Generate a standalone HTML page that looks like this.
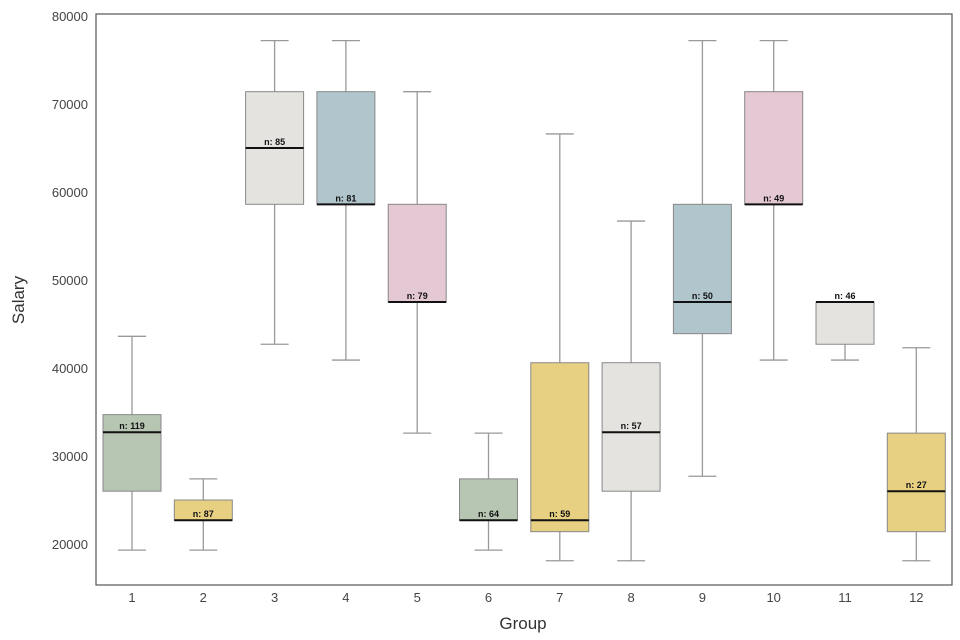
<!DOCTYPE html>
<html><head><meta charset="utf-8"><style>
html,body{margin:0;padding:0;background:#fff;}
svg{display:block;font-family:"Liberation Sans",sans-serif;}
</style></head><body>
<svg id="chart" width="960" height="640">
<rect x="96" y="14" width="856" height="571" fill="#fff" stroke="#555" stroke-width="1.2"/>
<g id="yticks"></g><g id="xticks"></g><g id="boxes"></g>
<text x="24" y="300" font-size="17" fill="#333" text-anchor="middle" transform="rotate(-90 24 300)">Salary</text>
<text x="523" y="629" font-size="17" fill="#333" text-anchor="middle">Group</text>
</svg>
<script>
const groups=["1","2","3","4","5","6","7","8","9","10","11","12"];
const lows=[19300,19300,42700,40900,32600,19300,18100,18100,27700,40900,40900,18100];
const q1s=[26000,22700,58600,58600,47500,22700,21400,26000,43900,58600,42700,21400];
const medians=[32700,22700,65000,58600,47500,22700,22700,32700,47500,58600,47500,26000];
const q3s=[34700,25000,71400,71400,58600,27400,40600,40600,58600,71400,47500,32600];
const highs=[43600,27400,77200,77200,71400,32600,66600,56700,77200,77200,47500,42300];
const counts=[119,87,85,81,79,64,59,57,50,49,46,27];
const colors=["#b7c6b3","#e8d083","#e4e3e0","#b0c5cc","#e4c8d3","#b7c6b3","#e8d083","#e4e3e0","#b0c5cc","#e4c8d3","#e4e3e0","#e8d083"];
const yTicks=[20000,30000,40000,50000,60000,70000,80000];
const NS="http://www.w3.org/2000/svg";
function y(v){return 16+(80000-v)*0.0088;}
function x(i){return 132+i*71.3;}
function mk(t,a,p){const e=document.createElementNS(NS,t);for(const k in a)e.setAttribute(k,a[k]);p.appendChild(e);return e;}
const yt=document.getElementById('yticks');
yTicks.forEach(v=>{const t=mk('text',{x:88,y:y(v)+5,'font-size':13,fill:'#444','text-anchor':'end'},yt);t.textContent=v;

});
const xt=document.getElementById('xticks');
groups.forEach((g,i)=>{const t=mk('text',{x:x(i),y:602,'font-size':13,fill:'#444','text-anchor':'middle'},xt);t.textContent=g;

});
const bx=document.getElementById('boxes');
const hw=29;
groups.forEach((g,i)=>{
const cx=x(i);
const grp=mk('g',{},bx);


mk('line',{x1:cx,x2:cx,y1:y(highs[i]),y2:y(q3s[i]),stroke:'#999','stroke-width':1.3},grp);
mk('line',{x1:cx,x2:cx,y1:y(q1s[i]),y2:y(lows[i]),stroke:'#999','stroke-width':1.3},grp);
mk('line',{x1:cx-14,x2:cx+14,y1:y(highs[i]),y2:y(highs[i]),stroke:'#999','stroke-width':1.3},grp);
mk('line',{x1:cx-14,x2:cx+14,y1:y(lows[i]),y2:y(lows[i]),stroke:'#999','stroke-width':1.3},grp);
const r=mk('rect',{x:cx-hw,y:y(q3s[i]),width:hw*2,height:Math.max(0.5,y(q1s[i])-y(q3s[i])),fill:colors[i],stroke:'#888','stroke-width':1},grp);


mk('line',{x1:cx-hw,x2:cx+hw,y1:y(medians[i]),y2:y(medians[i]),stroke:'#111','stroke-width':2},grp);
const t=mk('text',{x:cx,y:y(medians[i])-3,'font-size':9,'font-weight':'bold',fill:'#111','text-anchor':'middle'},grp);
t.textContent='n: '+counts[i];


});
</script>
</body></html>
